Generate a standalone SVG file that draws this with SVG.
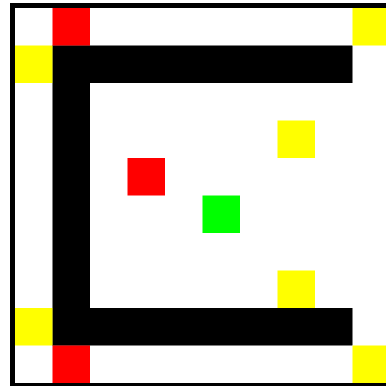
<svg xmlns="http://www.w3.org/2000/svg" width="386" height="386" viewBox="0 0 386 386">
<style>
.w{fill:#000}
.y{fill:#ffff00}
.r{fill:#ff0000}
.g{fill:#00ff00}
</style>
<rect x="0" y="0" width="386" height="386" fill="#fff"/>
<g id="border">
<rect class="w" x="10" y="3" width="376" height="5"/>
<rect class="w" x="10" y="3" width="5" height="383"/>
<rect class="w" x="10" y="383" width="376" height="5"/>
</g>
<g id="walls">
<rect class="w" x="52.5" y="45.5" width="300" height="37.5"/>
<rect class="w" x="52.5" y="45.5" width="37.5" height="300"/>
<rect class="w" x="52.5" y="308" width="300" height="37.5"/>
</g>
<g id="yellow">
<rect class="y" x="15" y="45.5" width="37.5" height="37.5"/>
<rect class="y" x="15" y="308" width="37.5" height="37.5"/>
<rect class="y" x="352.5" y="8" width="37.5" height="37.5"/>
<rect class="y" x="352.5" y="345.5" width="37.5" height="37.5"/>
<rect class="y" x="277.5" y="120.5" width="37.5" height="37.5"/>
<rect class="y" x="277.5" y="270.5" width="37.5" height="37.5"/>
</g>
<g id="red">
<rect class="r" x="52.5" y="8" width="37.5" height="37.5"/>
<rect class="r" x="52.5" y="345.5" width="37.5" height="37.5"/>
<rect class="r" x="127.5" y="158" width="37.5" height="37.5"/>
</g>
<g id="green">
<rect class="g" x="202.5" y="195.5" width="37.5" height="37.5"/>
</g>
</svg>
